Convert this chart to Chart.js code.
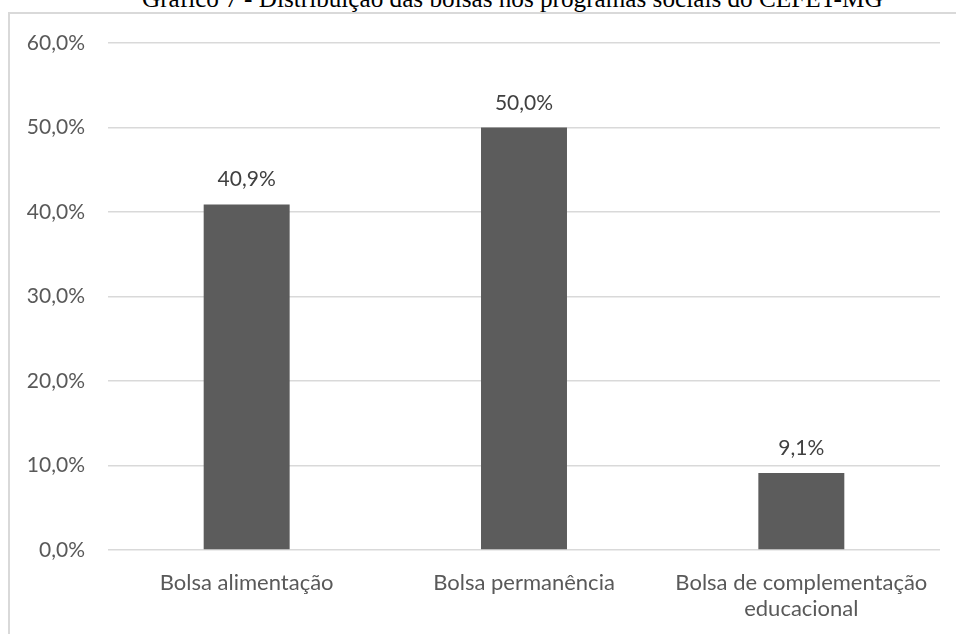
<!DOCTYPE html>
<html>
<head>
<meta charset="utf-8">
<script src="https://cdn.jsdelivr.net/npm/chart.js@4.4.0/dist/chart.umd.min.js"></script>
<style>
  html, body { margin: 0; padding: 0; background: #fff; }
  body { width: 956px; height: 634px; position: relative; overflow: hidden; }
  #title {
    position: absolute; left: 142px; top: -14px;
    font-family: "Liberation Serif", "Times New Roman", serif;
    font-size: 25.2px; line-height: 25px; color: #000; white-space: nowrap;
  }
  #frame {
    position: absolute; left: 8px; top: 12px; width: 1000px; height: 700px;
    border-left: 2px solid #d9d9d9; border-top: 2px solid #d9d9d9;
  }
  #wrap { position: absolute; left: 0; top: 0; width: 956px; height: 634px; }
</style>
</head>
<body>
<div id="title">Gráfico 7 - Distribuição das bolsas nos programas sociais do CEFET-MG</div>
<div id="frame"></div>
<div id="wrap"><canvas id="chart"></canvas></div>
<script>
const categories = ['Bolsa alimentação', 'Bolsa permanência', ['Bolsa de complementação', 'educacional']];
const shares = [40.9, 50.0, 9.1];

const fmt = v => v.toFixed(1).replace('.', ',') + '%';
const fontFamily = 'Lato, "Open Sans", sans-serif';
const tickFont = { family: fontFamily, size: 21 };
const catFont = { family: fontFamily, size: 22, lineHeight: 1.22 };

// values written above each bar
const barLabels = {
  id: 'barLabels',
  afterDatasetsDraw(chart) {
    const ctx = chart.ctx;
    const meta = chart.getDatasetMeta(0);
    ctx.save();
    ctx.font = '21px ' + fontFamily;
    ctx.fillStyle = '#404040';
    ctx.textAlign = 'center';
    ctx.textBaseline = 'alphabetic';
    meta.data.forEach((bar, i) => {
      ctx.fillText(fmt(shares[i]), bar.x, bar.y - 18);
    });
    ctx.restore();
  }
};

new Chart(document.getElementById('chart'), {
  type: 'bar',
  data: {
    labels: categories,
    datasets: [{
      data: shares,
      backgroundColor: '#5c5c5c',
      barPercentage: 0.62,
      categoryPercentage: 0.5
    }]
  },
  options: {
    responsive: true,
    maintainAspectRatio: false,
    animation: false,
    layout: { padding: { top: 43, right: 16, bottom: 0, left: 0 } },
    plugins: { legend: { display: false }, tooltip: { enabled: false } },
    scales: {
      x: {
        grid: { display: false },
        border: { display: false },
        ticks: { color: '#595959', font: catFont, padding: 11, maxRotation: 0 },
        afterFit(scale) { scale.height = 84; }
      },
      y: {
        min: 0, max: 60,
        grid: { color: '#d9d9d9', lineWidth: 1.5, drawTicks: false },
        border: { display: false },
        ticks: { stepSize: 10, color: '#595959', font: tickFont, padding: 23, callback: v => fmt(v) },
        afterFit(scale) { scale.width = 108; }
      }
    }
  },
  plugins: [barLabels]
});
</script>
</body>
</html>
